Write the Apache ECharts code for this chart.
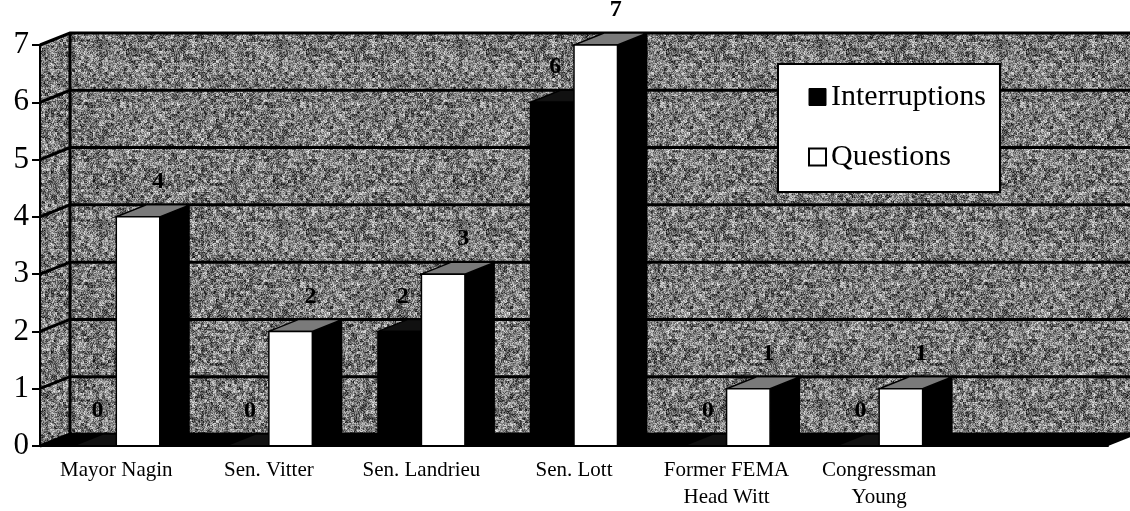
<!DOCTYPE html>
<html>
<head>
<meta charset="utf-8">
<script src="https://cdn.jsdelivr.net/npm/echarts@6/dist/echarts.min.js"></script>
<style>
html, body { margin: 0; padding: 0; background: #fff; }
#chart { width: 1130px; height: 511px; }
</style>
</head>
<body>
<div id="chart"></div>
<script>
var categories = ['Mayor Nagin', 'Sen. Vitter', 'Sen. Landrieu', 'Sen. Lott', 'Former FEMA\nHead Witt', 'Congressman\nYoung', ''];
var interruptions = [0, 0, 2, 6, 0, 0];
var questions = [4, 2, 3, 7, 1, 1];
var yTicks = [0, 1, 2, 3, 4, 5, 6, 7];

// depth of the fake 3d box
var DX = 30, DY = -12;
var FONT = '"Liberation Serif", "Times New Roman", serif';

// grainy grey texture for the walls (fixed seed, just a look)
function grain() {
  var n = 180;
  var c = document.createElement('canvas');
  c.width = n; c.height = n;
  var ctx = c.getContext('2d');
  var img = ctx.createImageData(n, n);
  var s = 20240607;
  function next() {
    s = (s * 1103515245 + 12345) & 0x7fffffff;
    return ((s >> 10) % 1000) / 1000;
  }
  var bs = 3, nb = n / bs, blocks = [];
  for (var b = 0; b < nb * nb; b++) blocks.push(next());
  for (var y = 0; y < n; y++) {
    for (var x = 0; x < n; x++) {
      var blk = blocks[Math.floor(y / bs) * nb + Math.floor(x / bs)];
      var g = 10 + 225 * (0.55 * next() + 0.45 * blk);
      var i = (y * n + x) * 4;
      img.data[i] = img.data[i + 1] = img.data[i + 2] = g;
      img.data[i + 3] = 255;
    }
  }
  ctx.putImageData(img, 0, 0);
  return c;
}
var texture = { image: grain(), repeat: 'repeat' };

function renderWalls(params, api) {
  var cs = params.coordSys;
  var x0 = cs.x, x1 = cs.x + cs.width;
  var yTop = cs.y, yBot = cs.y + cs.height;
  var kids = [];
  kids.push({ type: 'rect', shape: { x: x0 + DX, y: yTop + DY, width: cs.width, height: cs.height }, style: { fill: texture } });
  kids.push({ type: 'polygon', shape: { points: [[x0, yBot], [x0, yTop], [x0 + DX, yTop + DY], [x0 + DX, yBot + DY]] }, style: { fill: texture } });
  kids.push({ type: 'polygon', shape: { points: [[x0, yBot], [x1, yBot], [x1 + DX, yBot + DY], [x0 + DX, yBot + DY]] }, style: { fill: '#000' } });
  yTicks.forEach(function (t) {
    var y = api.coord([0, t])[1];
    kids.push({ type: 'polyline', shape: { points: [[x0, y], [x0 + DX, y + DY], [x1 + DX, y + DY]] }, style: { stroke: '#000', lineWidth: 3, fill: null } });
  });
  kids.push({ type: 'line', shape: { x1: x0 + DX, y1: yTop + DY, x2: x0 + DX, y2: yBot + DY }, style: { stroke: '#000', lineWidth: 3 } });
  return { type: 'group', children: kids };
}

function barRenderer(k, frontFill, topFill, labelDx) {
  return function (params, api) {
    var i = api.value(0), v = api.value(1);
    var band = api.size([1, 0])[0];
    var w = band * 0.285;
    var top = api.coord([i, v]);
    var base = api.coord([i, 0]);
    var xl = top[0] - w + k * w, xr = xl + w;
    var yt = top[1], yb = base[1];
    var kids = [
      { type: 'polygon', shape: { points: [[xr, yb], [xr, yt], [xr + DX, yt + DY], [xr + DX, yb + DY]] }, style: { fill: '#000' } },
      { type: 'polygon', shape: { points: [[xl, yt], [xr, yt], [xr + DX, yt + DY], [xl + DX, yt + DY]] }, style: { fill: topFill, stroke: '#000', lineWidth: 1.5 } },
      { type: 'rect', shape: { x: xl, y: yt, width: w, height: yb - yt }, style: { fill: frontFill, stroke: '#000', lineWidth: 1.5 } },
      { type: 'text', x: (xl + xr) / 2 + labelDx, y: yt - 35, z2: 50,
        style: { text: String(v), font: 'bold 24px ' + FONT, fill: '#000', align: 'center', verticalAlign: 'middle' } }
    ];
    return { type: 'group', children: kids };
  };
}

function pairs(arr) {
  return arr.map(function (v, i) { return [i, v]; });
}

var chart = echarts.init(document.getElementById('chart'));
chart.setOption({
  animation: false,
  grid: { left: 40, right: 22, top: 45, bottom: 63 },
  legend: {
    left: 778, top: 64,
    orient: 'vertical',
    padding: [18, 14, 20, 30],
    itemGap: 30,
    itemWidth: 17, itemHeight: 17,
    backgroundColor: '#fff',
    borderColor: '#000', borderWidth: 2,
    z: 20,
    textStyle: { fontFamily: FONT, fontSize: 30, color: '#000', lineHeight: 30 },
    data: [
      { name: 'Interruptions', icon: 'rect', itemStyle: { color: '#000', borderColor: '#000', borderWidth: 1 } },
      { name: 'Questions', icon: 'rect', itemStyle: { color: '#fff', borderColor: '#000', borderWidth: 2 } }
    ]
  },
  xAxis: {
    type: 'category',
    data: categories,
    z: 10,
    axisLine: { lineStyle: { color: '#000', width: 2 } },
    axisTick: { length: 7, lineStyle: { color: '#000', width: 2 } },
    axisLabel: { interval: 0, fontFamily: FONT, fontSize: 21, lineHeight: 27, color: '#000', margin: 11 },
    splitLine: { show: false }
  },
  yAxis: {
    type: 'value',
    min: 0, max: 7, interval: 1,
    z: 10,
    axisLine: { show: true, lineStyle: { color: '#000', width: 2 } },
    axisTick: { show: true, length: 8, lineStyle: { color: '#000', width: 2 } },
    axisLabel: { fontFamily: FONT, fontSize: 31, color: '#000', margin: 11 },
    splitLine: { show: false }
  },
  series: [
    {
      type: 'custom', name: 'walls', silent: true, z: 1,
      renderItem: renderWalls,
      data: [[0, 0]],
      encode: { x: 0, y: 1 }
    },
    {
      type: 'custom', name: 'Interruptions', silent: true, z: 3,
      itemStyle: { color: '#000' },
      renderItem: barRenderer(0, '#000', '#111', 3),
      data: pairs(interruptions),
      encode: { x: 0, y: 1 }
    },
    {
      type: 'custom', name: 'Questions', silent: true, z: 4,
      itemStyle: { color: '#fff' },
      renderItem: barRenderer(1, '#fff', '#7a7a7a', 20),
      data: pairs(questions),
      encode: { x: 0, y: 1 }
    }
  ]
});
</script>
</body>
</html>
